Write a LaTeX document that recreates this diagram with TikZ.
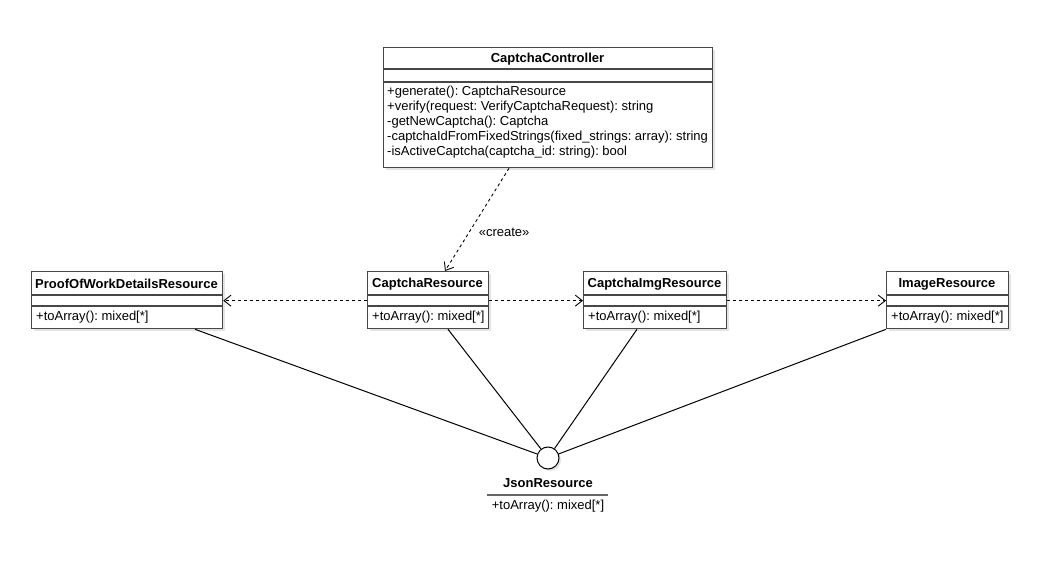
\documentclass[tikz,border=0pt]{standalone}
\usepackage{fontspec}
\setmainfont{Liberation Sans}
\frenchspacing
\usetikzlibrary{arrows.meta,calc}
\tikzset{
  umlbox/.style={draw=black!72, line width=1.3bp, fill=white, anchor=north west, inner sep=0pt},
  shadowbox/.style={fill=black!11, draw=none},
  sepline/.style={draw=black!72, line width=1.3bp},
  ttl/.style={font=\fontsize{13bp}{15bp}\selectfont\bfseries, inner sep=0pt},
  mth/.style={font=\fontsize{13bp}{15bp}\selectfont, inner sep=0pt, anchor=west},
  dep/.style={draw=black, line width=0.9bp, dash pattern=on 3bp off 3bp, -{Straight Barb[length=7bp,width=11bp]}},
  link/.style={draw=black, line width=1bp},
}
\begin{document}
\begin{tikzpicture}[x=1bp,y=-1bp]
\useasboundingbox (0,0) rectangle (1049,561);
\fill[white] (0,0) rectangle (1049,561);
% shadows
\fill[shadowbox] (386,50) rectangle (715,170);
\fill[shadowbox] (34,274) rectangle (225,331);
\fill[shadowbox] (370,274) rectangle (491,331);
\fill[shadowbox] (586,274) rectangle (729,331);
\fill[shadowbox] (889,274) rectangle (1011,331);
\fill[shadowbox] (550,460) circle (11);
% CaptchaController
\node[umlbox, minimum width=329bp, minimum height=120bp] (cc) at (383,47) {};
\draw[sepline] (383,69) -- (712,69);
\draw[sepline] (383,82) -- (712,82);
\node[ttl] at (547.5,59) {CaptchaController};
\node[mth] at (387,92.6) {+generate(): CaptchaResource};
\node[mth] at (387,107.4) {+verify(request: VerifyCaptchaRequest): string};
\node[mth] at (387,122.3) {-getNewCaptcha(): Captcha};
\node[mth] at (387,137.1) {-captchaIdFromFixedStrings(fixed\_strings: array): string};
\node[mth] at (387,152) {-isActiveCaptcha(captcha\_id: string): bool};
% ProofOfWorkDetailsResource
\node[umlbox, minimum width=191bp, minimum height=57bp] (pow) at (31,271) {};
\draw[sepline] (31,295) -- (222,295);
\draw[sepline] (31,306) -- (222,306);
\node[ttl] at (126.5,284) {ProofOfWorkDetailsResource};
\node[mth] at (36,317) {+toArray(): mixed[*]};
% CaptchaResource
\node[umlbox, minimum width=121bp, minimum height=57bp] (cr) at (367,271) {};
\draw[sepline] (367,295) -- (488,295);
\draw[sepline] (367,306) -- (488,306);
\node[ttl] at (427.5,284) {CaptchaResource};
\node[mth] at (372,317) {+toArray(): mixed[*]};
% CaptchaImgResource
\node[umlbox, minimum width=143bp, minimum height=57bp] (cir) at (583,271) {};
\draw[sepline] (583,295) -- (726,295);
\draw[sepline] (583,306) -- (726,306);
\node[ttl] at (654.5,284) {CaptchaImgResource};
\node[mth] at (588,317) {+toArray(): mixed[*]};
% ImageResource
\node[umlbox, minimum width=122bp, minimum height=57bp] (ir) at (886,271) {};
\draw[sepline] (886,295) -- (1008,295);
\draw[sepline] (886,306) -- (1008,306);
\node[ttl] at (947,284) {ImageResource};
\node[mth] at (891,317) {+toArray(): mixed[*]};
% JsonResource interface
\node[circle, draw=black, line width=1bp, fill=white, minimum size=22bp, inner sep=0pt] (json) at (548,458) {};
\node[ttl] (jsonlbl) at (548,483) {JsonResource};
\draw[draw=black!60, line width=1.5bp] (487,495) -- (608,495);
\node[font=\fontsize{13bp}{15bp}\selectfont, inner sep=0pt] (jsonm) at (548,506) {+toArray(): mixed[*]};
% create dependency
\coordinate (ccout) at ($(cc.south west)+(126,0)$);
\coordinate (crin) at ($(cr.north west)+(78,0)$);
\draw[dep] (ccout) -- node[pos=0.62, right=9bp, font=\fontsize{13bp}{15bp}\selectfont, inner sep=0pt] {«create»} (crin);
% dependencies
\draw[dep] ($(cr.west)+(0,0.5)$) -- ($(pow.east)+(0,0.5)$);
\draw[dep] ($(cr.east)+(0,0.5)$) -- ($(cir.west)+(0,0.5)$);
\draw[dep] ($(cir.east)+(0,0.5)$) -- ($(ir.west)+(0,0.5)$);
% realization links
\draw[link] ($(pow.south west)+(164,0)$) -- (json);
\draw[link] ($(cr.south west)+(81,0)$) -- (json);
\draw[link] ($(cir.south west)+(54,0)$) -- (json);
\draw[link] (ir.south west) -- (json);
\end{tikzpicture}
\end{document}
